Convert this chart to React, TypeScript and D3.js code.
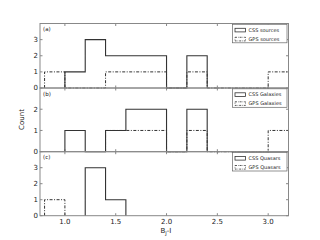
import React from "react";
import * as d3 from "d3";

const binEdges = [0.8, 1.0, 1.2, 1.4, 1.6, 1.8, 2.0, 2.2, 2.4, 2.6, 2.8, 3.0, 3.2];
const cssSources = [0, 1, 3, 2, 2, 2, 0, 2, 0, 0, 0, 0];
const gpsSources = [1, 0, 0, 1, 1, 1, 0, 1, 0, 0, 0, 1];
const cssGalaxies = [0, 1, 0, 1, 2, 2, 0, 2, 0, 0, 0, 0];
const gpsGalaxies = [0, 0, 0, 1, 1, 1, 0, 1, 0, 0, 0, 1];
const cssQuasars = [0, 0, 3, 1, 0, 0, 0, 0, 0, 0, 0, 0];
const gpsQuasars = [1, 0, 0, 0, 0, 0, 0, 0, 0, 0, 0, 0];
const xTicks = [1.0, 1.5, 2.0, 2.5, 3.0];

const panels = [
  { label: "(a)", css: cssSources, gps: gpsSources, cssName: "CSS sources", gpsName: "GPS sources", ymax: 4, yTicks: [0, 1, 2, 3] },
  { label: "(b)", css: cssGalaxies, gps: gpsGalaxies, cssName: "CSS Galaxies", gpsName: "GPS Galaxies", ymax: 3, yTicks: [0, 1, 2] },
  { label: "(c)", css: cssQuasars, gps: gpsQuasars, cssName: "CSS Quasars", gpsName: "GPS Quasars", ymax: 4, yTicks: [0, 1, 2, 3] },
];

const L = 40, R = 288.5;
const tops = [23.5, 88, 151.7];
const bottoms = [88, 151.7, 215.7];

function stepPath(counts: number[], x: d3.ScaleLinear<number, number>, y: d3.ScaleLinear<number, number>) {
  // find first and last nonzero bins
  let first = counts.findIndex((c) => c > 0);
  let last = counts.length - 1 - [...counts].reverse().findIndex((c) => c > 0);
  if (first < 0) return "";
  const pts: [number, number][] = [];
  pts.push([x(binEdges[first]), y(0)]);
  for (let i = first; i <= last; i++) {
    pts.push([x(binEdges[i]), y(counts[i])]);
    pts.push([x(binEdges[i + 1]), y(counts[i])]);
  }
  pts.push([x(binEdges[last + 1]), y(0)]);
  return d3.line()(pts) || "";
}

export default function App() {
  const x = d3.scaleLinear().domain([0.755, 3.2]).range([L, R]);
  const font = "DejaVu Sans, sans-serif";
  return (
    <svg width={320} height={240} style={{ position: "absolute", left: 0, top: 0 }} fontFamily={font}>
      <rect width={320} height={240} fill="#fff" />
      {panels.map((p, pi) => {
        const y = d3.scaleLinear().domain([0, p.ymax]).range([bottoms[pi], tops[pi]]);
        const top = tops[pi], bot = bottoms[pi];
        return (
          <g key={pi}>
            <path d={stepPath(p.gps, x, y)} fill="none" stroke="#333" strokeWidth={1} strokeDasharray="3,1.5,1,1.5" />
            <path d={stepPath(p.css, x, y)} fill="none" stroke="#333" strokeWidth={1.1} />
            {xTicks.map((t) => (
              <g key={t}>
                <line x1={x(t)} x2={x(t)} y1={bot} y2={bot - 2.5} stroke="#555" strokeWidth={0.7} />
                <line x1={x(t)} x2={x(t)} y1={top} y2={top + 2.5} stroke="#555" strokeWidth={0.7} />
              </g>
            ))}
            {p.yTicks.map((t) => (
              <g key={t}>
                <line x1={L} x2={L + 2.5} y1={y(t)} y2={y(t)} stroke="#555" strokeWidth={0.7} />
                <line x1={R} x2={R - 2.5} y1={y(t)} y2={y(t)} stroke="#555" strokeWidth={0.7} />
                <text x={L - 2} y={y(t)} dy="0.35em" textAnchor="end" fontSize={7} fill="#222">{t}</text>
              </g>
            ))}
            <rect x={L} y={top} width={R - L} height={bot - top} fill="none" stroke="#888" strokeWidth={1} />
            <text x={L + 3} y={top + 7.5} fontSize={5.5} fill="#222">{p.label}</text>
            <g>
              <rect x={232.5} y={top + 0.8} width={54.5} height={18.5} fill="#fff" stroke="#666" strokeWidth={0.7} />
              <rect x={235} y={top + 4.8} width={10.5} height={3.6} fill="none" stroke="#333" strokeWidth={0.8} />
              <rect x={235} y={top + 13.8} width={10.5} height={3.6} fill="none" stroke="#333" strokeWidth={0.8} strokeDasharray="2,1,0.6,1" />
              <text x={248.5} y={top + 6.6} dy="0.35em" fontSize={5} fill="#222">{p.cssName}</text>
              <text x={248.5} y={top + 15.6} dy="0.35em" fontSize={5} fill="#222">{p.gpsName}</text>
            </g>
          </g>
        );
      })}
      {xTicks.map((t) => (
        <text key={t} x={x(t)} y={bottoms[2] + 8.5} textAnchor="middle" fontSize={7} fill="#222">{t.toFixed(1)}</text>
      ))}
      <text x={166} y={233} textAnchor="middle" fontSize={7} fill="#222">
        B<tspan fontSize={5} dy={1.5}>J</tspan><tspan dy={-1.5}>-I</tspan>
      </text>
      <text transform="translate(24,119.5) rotate(-90)" textAnchor="middle" fontSize={7} fill="#222">Count</text>
    </svg>
  );
}
